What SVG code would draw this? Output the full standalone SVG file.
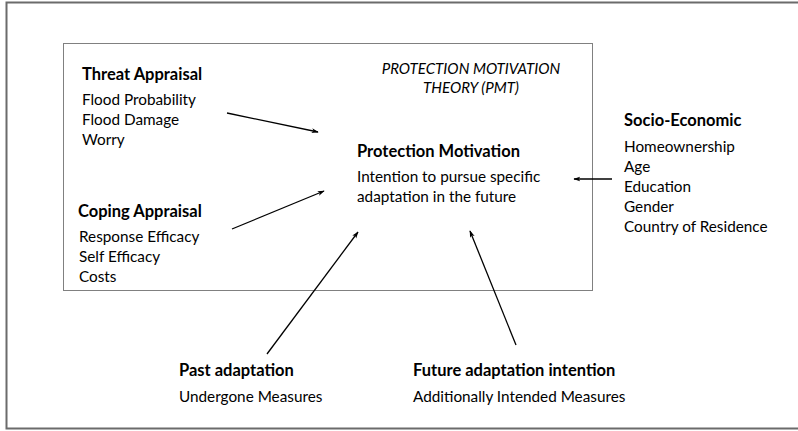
<svg xmlns="http://www.w3.org/2000/svg" width="798" height="431" viewBox="0 0 798 431">
  <defs>
    <style>
      text { font-family: Lato, "Open Sans", "Liberation Sans", sans-serif; font-size: 15.3px; fill: #000; }
      .h { font-weight: bold; font-size: 16.5px; }
      .it { font-style: italic; text-anchor: middle; font-size: 15.1px; }
      .edge { stroke: #000; stroke-width: 1.3; fill: none; marker-end: url(#arr); }
    </style>
    <marker id="arr" viewBox="0 0 10 10" refX="9" refY="5" markerWidth="7" markerHeight="7" orient="auto" markerUnits="userSpaceOnUse">
      <path d="M0,1.5 L10,5 L0,8.5 L2.5,5 Z" fill="#000"/>
    </marker>
  </defs>
  <rect width="798" height="431" fill="#fff"/>
  <!-- outer frame -->
  <path d="M800,2.5 L6.5,2.5 L6.5,428.5 L800,428.5" fill="none" stroke="#6b6b6b" stroke-width="2"/>
  <!-- PMT boundary (dotted) -->
  <rect x="63.5" y="43.5" width="529" height="247" fill="none" stroke="#000" stroke-width="1" stroke-dasharray="1,1"/>

  <g id="pmt-label">
    <text class="it" x="471" y="74">PROTECTION MOTIVATION</text>
    <text class="it" x="471" y="93">THEORY (PMT)</text>
  </g>
  <g id="threat-appraisal">
    <text class="h" x="82" y="80">Threat Appraisal</text>
    <text x="82" y="105">Flood Probability</text>
    <text x="82" y="125">Flood Damage</text>
    <text x="82" y="145">Worry</text>
  </g>
  <g id="coping-appraisal">
    <text class="h" x="78" y="217">Coping Appraisal</text>
    <text x="79" y="242">Response Efficacy</text>
    <text x="79" y="262">Self Efficacy</text>
    <text x="79" y="282">Costs</text>
  </g>
  <g id="protection-motivation">
    <text class="h" x="357" y="157">Protection Motivation</text>
    <text x="357" y="182">Intention to pursue specific</text>
    <text x="357" y="202">adaptation in the future</text>
  </g>
  <g id="socio-economic">
    <text class="h" x="624" y="126">Socio-Economic</text>
    <text x="624" y="152">Homeownership</text>
    <text x="624" y="172">Age</text>
    <text x="624" y="192">Education</text>
    <text x="624" y="212">Gender</text>
    <text x="624" y="232">Country of Residence</text>
  </g>
  <g id="past-adaptation">
    <text class="h" x="179" y="376">Past adaptation</text>
    <text x="179" y="402">Undergone Measures</text>
  </g>
  <g id="future-adaptation">
    <text class="h" x="413" y="376">Future adaptation intention</text>
    <text x="413" y="402">Additionally Intended Measures</text>
  </g>

  <g id="connectors">
    <line class="edge" x1="227" y1="113" x2="318" y2="132"/>
    <line class="edge" x1="232" y1="229" x2="324" y2="191"/>
    <line class="edge" x1="267" y1="354" x2="358" y2="232"/>
    <line class="edge" x1="516" y1="345" x2="470" y2="231"/>
    <line class="edge" x1="612" y1="179" x2="574" y2="179"/>
  </g>
</svg>
